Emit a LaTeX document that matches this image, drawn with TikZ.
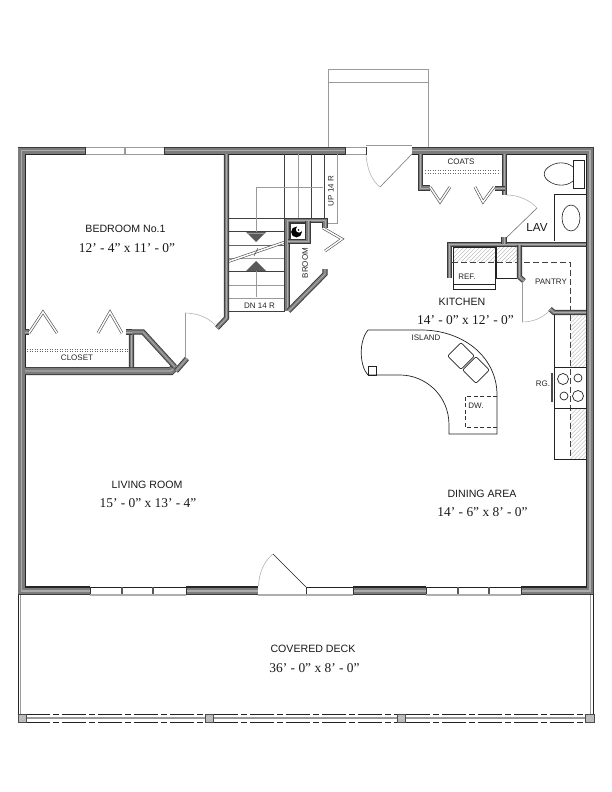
\documentclass[tikz,border=0pt]{standalone}
\usepackage{fontspec}
\setmainfont{Liberation Sans}
\newfontfamily\dimfont{Liberation Serif}
\definecolor{walldark}{HTML}{3A3A3A}
\definecolor{wallmid}{HTML}{7C7C7C}
\definecolor{walllight}{HTML}{ABABAB}
\definecolor{thinc}{HTML}{9A9A9A}
\definecolor{arcc}{HTML}{B4B4B4}
\definecolor{inkline}{HTML}{222222}
\definecolor{hatchc}{HTML}{B0B0B0}
\tikzset{
  lab/.style={font=\fontsize{10.6}{12}\selectfont,inner sep=0pt,text=black!90},
  smalllab/.style={font=\fontsize{8}{9}\selectfont,inner sep=0pt,text=black!85},
  dimlab/.style={font=\dimfont\fontsize{13.4}{15}\selectfont,inner sep=0pt,text=black!90},
  ink/.style={draw=inkline,line width=0.7pt},
  grayline/.style={draw=thinc,line width=0.8pt},
  arcline/.style={draw=arcc,line width=0.6pt},
  innerline/.style={draw=black!85,line width=1.2pt},
  bifold/.style={draw=black!70,line width=0.6pt,double=white,double distance=1.5pt,line join=miter},
  winlow/.style={draw=thinc!80,line width=1.4pt},
}
\newcommand{\owall}[1]{%
  \draw[walldark,line width=8pt,line join=miter] #1;
  \draw[wallmid,line width=6.4pt,line join=miter] #1;
  \draw[walllight,line width=1.2pt,line join=miter] #1;}
\newcommand{\iwall}[1]{%
  \draw[walldark,line width=5.2pt,line join=miter] #1;
  \draw[wallmid,line width=3.4pt,line join=miter] #1;
  \draw[walllight,line width=0.8pt,line join=miter] #1;}
\newcommand{\hatchbox}[4]{%
  \begin{scope}
    \clip (#1,#2) rectangle (#3,#4);
    \foreach \k in {-100,-96,...,100}{
      \draw[hatchc,line width=0.35pt] ({#1+\k},{#4}) -- ({#1+\k+100},{#4-100});
    }
  \end{scope}}
\begin{document}
\begin{tikzpicture}[x=1pt,y=-1pt]
\useasboundingbox (0,0) rectangle (612,792);
\fill[white] (0,0) rectangle (612,792);

% stoop
\draw[grayline,line width=0.6pt] (328,147) -- (328,69) -- (428,69) -- (428,147);
\draw[grayline,line width=0.6pt] (328,82) -- (428,82);

% deck
\draw[ink,line width=0.6pt] (18,595) -- (18,722);
\draw[grayline] (20.5,595) -- (20.5,714);
\draw[grayline,line width=0.9pt] (590.5,595) -- (590.5,714);
\draw[ink,line width=0.6pt] (593,595) -- (593,722);
\foreach \a/\b in {26/205,214/397,406/586}{
  \draw[ink,dash pattern=on 24pt off 3pt on 6pt off 3pt,line width=0.7pt] (\a,714) -- (\b,714);
  \draw[thinc,line width=1.1pt] (\a,718) -- (\b,718);
  \draw[ink,dash pattern=on 24pt off 3pt on 6pt off 3pt,line width=0.7pt] (\a,722) -- (\b,722);
}
\foreach \a in {18,205,397,585.5}{
  \fill[black!25] (\a,714) rectangle (\a+8.5,722);
  \hatchbox{\a}{714}{\a+8.5}{722}
  \draw[black!70,line width=0.5pt] (\a,714) rectangle (\a+8.5,722);
}

% outer walls
\owall{(85,150.8) -- (21.5,150.8) -- (21.5,591) -- (90,591)}
\owall{(164,150.8) -- (345,150.8)}
\owall{(412,150.8) -- (590,150.8) -- (590,591) -- (521,591)}
\owall{(186,591) -- (258,591)}
\owall{(353,591) -- (426,591)}
\draw[innerline] (85,154.3) -- (25.3,154.3) -- (25.3,587) -- (90,587);
\draw[innerline] (164,154.3) -- (345,154.3);
\draw[innerline] (412,154.3) -- (586.3,154.3) -- (586.3,587) -- (521,587);
\draw[innerline] (186,587) -- (258,587);
\draw[innerline] (353,587) -- (426,587);

% top windows
\draw[thinc,line width=0.8pt,fill=white] (85,147.5) rectangle (164,154.5);
\draw[thinc,line width=1.2pt] (125,147.5) -- (125,154.5);
\draw[black!80,line width=1pt] (85,147) -- (85,155) (164,147) -- (164,155);
\draw[thinc,line width=0.8pt,fill=white] (345,147.5) rectangle (366,154.5);
\draw[black!80,line width=1pt] (345,147) -- (345,155) (366,147) -- (366,155);

% bottom windows
\foreach \a/\b in {90/186,306/353,426/521}{
  \fill[white] (\a,587) rectangle (\b,595);
  \draw[ink] (\a,587) -- (\b,587);
  \draw[winlow] (\a,595) -- (\b,595);
  \draw[black!80,line width=1pt] (\a,587) -- (\a,594) (\b,587) -- (\b,594);
}
\draw[winlow] (258,595) -- (306,595);
\foreach \m in {122,153,458,489}{
  \draw[black!65,line width=1.2pt] (\m,587) -- (\m,594);
}

% front door
\draw[ink,line width=0.55pt] (306,587) -- (273,554);
\draw[arcline] (273,554) .. controls (264,561) and (259,573) .. (258.5,586);

% entry door
\draw[thinc,line width=0.8pt] (366,145.5) -- (412,145.5);
\draw[draw=black!55,line width=0.55pt] (412,154) -- (380,187);
\draw[arcline] (380,187) .. controls (372,181) and (367,169) .. (366,155);

% stairs
\foreach \t/\c in {218/black!75,231.5/black!75,245/black!60,258/thinc,271/black!75,285/thinc,298/thinc,311/black!75}{
  \draw[\c,line width=0.6pt] (229,\t) -- (285,\t);
}
\foreach \s/\c in {284/black!75,298/thinc,311.5/black!75,324.5/black!75}{
  \draw[\c,line width=0.6pt] (\s,154) -- (\s,219);
}
\draw[thinc,line width=0.6pt] (337.5,154) -- (337.5,223) -- (325,223);
\draw[thinc,line width=0.7pt] (323,187) -- (256,187) -- (256,232);
\draw[thinc,line width=0.7pt] (256,271) -- (256,297);
\fill[black!65] (246,232) -- (266,232) -- (256,242) -- cycle;
\draw[thinc,line width=0.7pt] (248,233.5) -- (264,233.5);
\fill[black!65] (246,271) -- (266,271) -- (256,261) -- cycle;
\draw[bifold] (227,262) -- (288,241);
\draw[black!70,line width=0.5pt] (254,256) -- (258,248);
\node[smalllab] (uplab) at (331,191) [rotate=90] {UP 14 R};
\node[smalllab] (dnlab) at (259.5,305.5) {DN 14 R};

% stair wall
\iwall{(226.5,154) -- (226.5,318) -- (217,328)}

% broom closet
\iwall{(287,311) -- (287,220.5) -- (325,220.5) -- (325,227.5)}
\iwall{(288,241.5) -- (308,241.5) -- (308,221)}
\fill[white] (290,223.5) rectangle (305.5,239);
\draw[black!80,line width=0.7pt] (290,223.5) rectangle (305.5,239);
\fill[black] (296.5,232) circle (5.4pt);
\fill[white] (299,229.5) circle (3.1pt);
\fill[black] (298.5,230) circle (0.9pt);
\iwall{(288.5,311) -- (325,274) -- (325,269)}
\draw[bifold] (323,228) -- (342,239) -- (325,251);
\node[smalllab] (broom) at (305,263) [rotate=90] {BROOM};

% coats
\iwall{(420.5,154) -- (420.5,188) -- (430,188)}
\iwall{(504.5,154) -- (504.5,195)}
\iwall{(505,188.5) -- (495,188.5)}
\draw[black!60,dotted,line width=0.5pt] (425,170.5) -- (500,170.5);
\draw[black!60,dotted,line width=0.5pt] (425,173) -- (500,173);
\draw[bifold] (430,187) -- (440,202) -- (450,187);
\draw[bifold] (475,187) -- (483,202) -- (494,187);
\node[smalllab] (coats) at (461,161.5) {COATS};

% lav
\draw[ink,line width=0.6pt] (573,160) rectangle (584,188);
\draw[ink,line width=0.6pt] (573,167) .. controls (566,161) and (556,162.5) .. (551,165.5) .. controls (542,170) and (542,178) .. (551,182.5) .. controls (556,185.5) and (566,187) .. (573,181);
\draw[ink,line width=0.6pt] (554,241) -- (554,194) -- (586,194);
\draw[ink,line width=0.6pt] (571,218) ellipse (9pt and 13pt);
\draw[draw=black!55,line width=0.6pt] (504,240) -- (537,208);
\draw[arcline] (537,208) .. controls (530,200) and (518,195) .. (507,195);
\node[lab,font=\fontsize{11.6}{13}\selectfont] (lav) at (537,228) {LAV};

% kitchen counter run
\hatchbox{453}{247}{517}{262}
\draw[ink,line width=0.6pt] (453,247) rectangle (495,289);
\draw[ink,line width=0.6pt] (453,284) -- (495,284);
\draw[ink,line width=0.6pt] (496,247) -- (496,278) -- (517,278);
\draw[black!75,dash pattern=on 6pt off 3pt,line width=0.6pt] (452,262) -- (570.5,262) -- (570.5,459);
\iwall{(586,244.5) -- (449.5,244.5) -- (449.5,278)}
\iwall{(504,244) -- (504,237)}
\iwall{(519.5,245) -- (519.5,277) -- (524,281)}
\iwall{(586,312.5) -- (554,312.5) -- (550,309)}
\node[smalllab] (ref) at (467,277) {REF.};
\node[smalllab] (pantry) at (551,282) {PANTRY};

% pantry door
\draw[thinc,line width=0.8pt] (522,282) -- (522,322);
\draw[arcline] (522,322) .. controls (533,322) and (543,318) .. (550,310);

% right counter
\hatchbox{570.5}{315}{586}{367}
\hatchbox{570.5}{408}{586}{459}
\draw[ink,line width=0.6pt] (554,315) -- (554,459) -- (586,459);
\draw[ink,line width=0.6pt] (554,367) -- (586,367);
\draw[ink,line width=0.6pt] (554,408) -- (586,408);
\draw[black!70,line width=2pt] (552.3,373) -- (552.3,402);
\draw[ink] (563,379) circle (5.5pt);
\draw[ink] (578,378) circle (4pt);
\draw[ink] (564,396) circle (4pt);
\draw[ink] (578,396) circle (5.5pt);
\node[smalllab] (rg) at (543,384) {RG.};

% island
\draw[ink] (368,330) -- (423,330) .. controls (465,331) and (497,358) .. (497,395) -- (497,434) -- (449,434) -- (449,425) .. controls (449,395) and (425,375) .. (400,375) -- (368,375) .. controls (360,367) and (358,342) .. (368,330) -- cycle;
\draw[ink,line width=0.6pt] (368,366.5) rectangle (376.5,375);
\draw[ink,rounded corners=2pt,rotate around={45:(461,356)}] (451.5,346.5) rectangle (470.5,365.5);
\draw[ink,rounded corners=2pt,rotate around={45:(476,370)}] (466.5,360.5) rectangle (485.5,379.5);
\draw[black!80,dash pattern=on 4pt off 2.5pt,line width=0.6pt] (497,396) -- (465,396) -- (465,427) -- (497,427);
\node[smalllab] (dw) at (476,406) {DW.};
\node[smalllab] (island) at (426,338) {ISLAND};

% closet
\owall{(25,371) -- (171,371) -- (175,367)}
\iwall{(176,371) -- (187,358.5)}
\iwall{(131.5,367) -- (131.5,332) -- (143,332) -- (175,367)}
\iwall{(25,332) -- (29,332)}
\iwall{(126,332) -- (132,332)}
\draw[black!60,dotted,line width=0.5pt] (27,349.5) -- (128,349.5);
\draw[black!60,dotted,line width=0.5pt] (27,351.5) -- (128,351.5);
\draw[bifold] (29,333) -- (43,312) -- (57,333);
\draw[bifold] (98,333) -- (110,312) -- (122,333);
\node[smalllab] (closet) at (77,358) {CLOSET};
\draw[thinc,line width=0.8pt] (185,358) -- (185,313);
\draw[arcline] (185,313) .. controls (196,313) and (208,317) .. (215,325);

% room labels
\node[lab] (bed) at (125.5,229) {BEDROOM No.1};
\node[dimlab] (beddim) at (127,248) {12’ - 4” x 11’ - 0”};
\node[lab] (kit) at (462,302) {KITCHEN};
\node[dimlab] (kitdim) at (465.5,320) {14’ - 0” x 12’ - 0”};
\node[lab] (liv) at (147,485) {LIVING ROOM};
\node[dimlab] (livdim) at (148,503) {15’ - 0” x 13’ - 4”};
\node[lab] (din) at (482,494) {DINING AREA};
\node[dimlab] (dindim) at (482.5,512) {14’ - 6” x 8’ - 0”};
\node[lab] (deck) at (313,649) {COVERED DECK};
\node[dimlab] (deckdim) at (314.5,668) {36’ - 0” x 8’ - 0”};
\end{tikzpicture}
\end{document}
